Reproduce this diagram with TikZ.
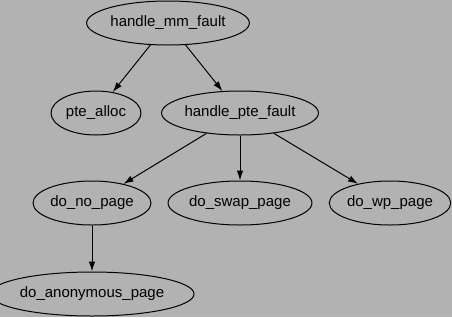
\documentclass[tikz,border=0pt]{standalone}
\usepackage{fontspec}
\setmainfont{Liberation Sans}
\usetikzlibrary{shapes.geometric, arrows.meta}
\definecolor{bggray}{gray}{0.70}
\begin{document}
\begin{tikzpicture}[
    x=1pt, y=1pt,
    font=\fontsize{15}{18}\selectfont,
    fnode/.style={draw, ellipse, line width=1pt, inner sep=0pt,
                  minimum height=44pt},
    arr/.style={-{Latex[length=10pt, width=6.5pt]}, line width=1pt}
  ]

  %% ── Background ──
  \fill[bggray] (0,0) rectangle (452,-317);
  \useasboundingbox (0,0) rectangle (452,-317);

  %% ── Level 1 ──
  \node[fnode, minimum width=160pt] (mmfault) at (168,-23) {handle\_mm\_fault};

  %% ── Level 2 ──
  \node[fnode, minimum width=90pt]  (ptealloc) at (96,-113)  {pte\_alloc};
  \node[fnode, minimum width=154pt] (ptefault) at (240,-113) {handle\_pte\_fault};

  %% ── Level 3 ──
  \node[fnode, minimum width=116pt] (nopage)   at (92,-203)  {do\_no\_page};
  \node[fnode, minimum width=135pt] (swappage) at (240,-203) {do\_swap\_page};
  \node[fnode, minimum width=121pt] (wppage)   at (390,-203) {do\_wp\_page};

  %% ── Level 4 ──
  \node[fnode, minimum width=182pt] (anonpage) at (92,-294) {do\_anonymous\_page};

  %% ── Edges ──
  \draw[arr] (mmfault) -- (ptealloc);
  \draw[arr] (mmfault) -- (ptefault);
  \draw[arr] (ptefault) -- (nopage);
  \draw[arr] (ptefault) -- (swappage);
  \draw[arr] (ptefault) -- (wppage);
  \draw[arr] (nopage) -- (anonpage);

\end{tikzpicture}
\end{document}
